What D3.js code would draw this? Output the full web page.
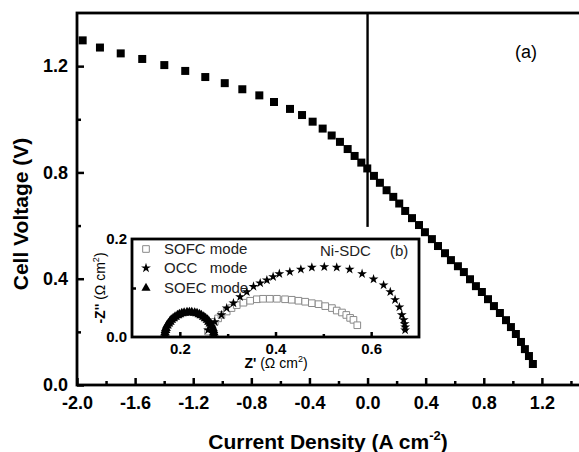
<!DOCTYPE html>
<html>
<head>
<meta charset="utf-8">
<script src="https://cdn.jsdelivr.net/npm/d3@7"></script>
<style>
  body { margin: 0; background: #fff; }
  svg { display: block; font-family: "Liberation Sans", Arial, sans-serif; }
</style>
</head>
<body>
<svg width="579" height="452"></svg>
<script>
// main curve: current density (A cm-2) vs cell voltage (V)
const currentDensity = [-1.961, -1.842, -1.699, -1.551, -1.399, -1.255, -1.117, -0.983, -0.862, -0.745,
  -0.644, -0.534, -0.451, -0.378, -0.309, -0.247, -0.190, -0.137, -0.089, -0.043,
  -0.002, 0.044, 0.085, 0.131, 0.177, 0.218, 0.259, 0.306, 0.354, 0.395,
  0.443, 0.485, 0.533, 0.574, 0.622, 0.663, 0.705, 0.746, 0.787, 0.829,
  0.870, 0.911, 0.953, 0.987, 1.021, 1.056, 1.083, 1.111, 1.138];
const cellVoltage = [1.297, 1.270, 1.248, 1.227, 1.204, 1.182, 1.159, 1.136, 1.113, 1.090,
  1.065, 1.039, 1.016, 0.991, 0.965, 0.939, 0.915, 0.888, 0.862, 0.837,
  0.815, 0.787, 0.761, 0.733, 0.708, 0.683, 0.655, 0.628, 0.602, 0.575,
  0.549, 0.523, 0.496, 0.470, 0.447, 0.425, 0.398, 0.372, 0.350, 0.323,
  0.297, 0.271, 0.244, 0.218, 0.192, 0.162, 0.135, 0.109, 0.079];

// inset (b): impedance spectra, Z' and -Z'' (ohm cm2)
const sofcZre = [0.259, 0.266, 0.273, 0.280, 0.287, 0.298, 0.308, 0.319, 0.333, 0.347, 0.361, 0.374, 0.388, 0.403,
  0.420, 0.434, 0.448, 0.462, 0.476, 0.490, 0.504, 0.518, 0.528, 0.539, 0.548, 0.556, 0.563, 0.571];
const sofcZim = [0.011, 0.021, 0.031, 0.038, 0.045, 0.052, 0.059, 0.065, 0.070, 0.074, 0.077, 0.078, 0.078, 0.078,
  0.077, 0.076, 0.074, 0.072, 0.069, 0.067, 0.063, 0.059, 0.054, 0.050, 0.045, 0.039, 0.035, 0.024];
const occZre = [0.259, 0.273, 0.287, 0.298, 0.312, 0.326, 0.340, 0.354, 0.368, 0.382, 0.395, 0.408, 0.430, 0.453,
  0.476, 0.502, 0.528, 0.555, 0.581, 0.605, 0.626, 0.640, 0.650, 0.659, 0.664, 0.668, 0.670, 0.671, 0.671];
const occZim = [0.014, 0.031, 0.045, 0.059, 0.069, 0.082, 0.092, 0.103, 0.110, 0.116, 0.123, 0.129, 0.133, 0.138,
  0.142, 0.143, 0.142, 0.138, 0.129, 0.118, 0.106, 0.092, 0.076, 0.061, 0.045, 0.035, 0.027, 0.020, 0.014];
const soecZre = [0.169, 0.169, 0.170, 0.171, 0.173, 0.176, 0.179, 0.182, 0.186, 0.190, 0.195, 0.199, 0.204, 0.209, 0.215,
  0.220, 0.225, 0.231, 0.236, 0.241, 0.245, 0.250, 0.254, 0.258, 0.261, 0.264, 0.267, 0.269, 0.270, 0.271, 0.271];
const soecZim = [0.004, 0.009, 0.014, 0.018, 0.023, 0.027, 0.031, 0.035, 0.038, 0.041, 0.044, 0.046, 0.048, 0.049, 0.050,
  0.050, 0.050, 0.049, 0.048, 0.046, 0.044, 0.041, 0.038, 0.035, 0.031, 0.027, 0.023, 0.018, 0.014, 0.009, 0.004];

// tick values and labels
const xTicks = [-2.0, -1.6, -1.2, -0.8, -0.4, 0.0, 0.4, 0.8, 1.2];
const xTickLabels = ["-2.0", "-1.6", "-1.2", "-0.8", "-0.4", "0.0", "0.4", "0.8", "1.2"];
const xMinor = [-1.8, -1.4, -1.0, -0.6, -0.2, 0.2, 0.6, 1.0, 1.4];
const yTicks = [0.0, 0.4, 0.8, 1.2];
const yTickLabels = ["0.0", "0.4", "0.8", "1.2"];
const yMinor = [0.2, 0.6, 1.0];
const insetXTicks = [0.2, 0.4, 0.6];
const insetXTickLabels = ["0.2", "0.4", "0.6"];
const insetXMinor = [0.3, 0.5];
const insetYTicks = [0.0, 0.2];
const insetYTickLabels = ["0.0", "0.2"];
const insetYMinor = [0.1];
const legendLabels = ["SOFC mode", "OCC   mode", "SOEC mode"];
const zeroLineTop = 1.4, zeroLineBottom = 0.595;

const svg = d3.select("svg");

// main scales (right frame edge falls outside the picture)
const x = d3.scaleLinear().domain([-2, 1.6]).range([77, 600]);
const y = d3.scaleLinear().domain([0, 1.4]).range([385, 13]);

// axes with inward ticks
svg.append("g").attr("transform", `translate(0,${y(0)})`)
  .call(d3.axisBottom(x).tickValues(xTicks).tickSize(-7).tickPadding(11)
    .tickFormat((d, i) => xTickLabels[i]));
svg.append("g").attr("transform", `translate(0,${y(0)})`)
  .call(d3.axisBottom(x).tickValues(xMinor).tickSize(-4).tickFormat(""));
svg.append("g").attr("transform", `translate(${x(-2)},0)`)
  .call(d3.axisLeft(y).tickValues(yTicks).tickSize(-7).tickPadding(9)
    .tickFormat((d, i) => yTickLabels[i]));
svg.append("g").attr("transform", `translate(${x(-2)},0)`)
  .call(d3.axisLeft(y).tickValues(yMinor).tickSize(-4).tickFormat(""));

svg.selectAll(".domain").remove();
svg.selectAll(".tick line").attr("stroke", "#000").attr("stroke-width", 2.5);
svg.selectAll(".tick text").attr("font-size", 18).attr("font-weight", "bold")
  .attr("font-family", "Liberation Sans, Arial, sans-serif").attr("fill", "#000");

// frame
svg.append("rect")
  .attr("x", x(-2)).attr("y", y(1.4))
  .attr("width", x(1.6) - x(-2)).attr("height", y(0) - y(1.4))
  .attr("fill", "none").attr("stroke", "#000").attr("stroke-width", 2.8);

// vertical line at zero current
svg.append("line")
  .attr("x1", x(0)).attr("x2", x(0))
  .attr("y1", y(zeroLineTop)).attr("y2", y(zeroLineBottom))
  .attr("stroke", "#000").attr("stroke-width", 2.4);

// main data squares
svg.append("g").selectAll("path")
  .data(currentDensity.map((d, i) => [d, cellVoltage[i]]))
  .join("path")
  .attr("transform", d => `translate(${x(d[0])},${y(d[1])})`)
  .attr("d", d3.symbol(d3.symbolSquare, 64))
  .attr("fill", "#000");

// axis titles
const xTitle = svg.append("text")
  .attr("x", 328).attr("y", 449)
  .attr("text-anchor", "middle")
  .attr("font-size", 21).attr("font-weight", "bold");
xTitle.append("tspan").text("Current Density (A cm");
xTitle.append("tspan").attr("font-size", 13).attr("dy", -9).text("-2");
xTitle.append("tspan").attr("dy", 9).text(")");

svg.append("text")
  .attr("transform", "translate(28,214) rotate(-90)")
  .attr("text-anchor", "middle")
  .attr("font-size", 21).attr("font-weight", "bold")
  .text("Cell Voltage (V)");

svg.append("text")
  .attr("x", 526).attr("y", 58)
  .attr("text-anchor", "middle").attr("font-size", 18)
  .text("(a)");

// ---------- inset (b) ----------
const ix = d3.scaleLinear().domain([0.1, 0.7]).range([132, 419]);
const iy = d3.scaleLinear().domain([0, 0.2]).range([337, 239]);

const inset = svg.append("g");
inset.append("rect")
  .attr("x", ix(0.1)).attr("y", iy(0.2))
  .attr("width", ix(0.7) - ix(0.1)).attr("height", iy(0) - iy(0.2))
  .attr("fill", "#fff").attr("stroke", "none");

inset.append("g").attr("transform", `translate(0,${iy(0)})`)
  .call(d3.axisBottom(ix).tickValues(insetXTicks).tickSize(-5).tickPadding(6)
    .tickFormat((d, i) => insetXTickLabels[i]));
inset.append("g").attr("transform", `translate(0,${iy(0)})`)
  .call(d3.axisBottom(ix).tickValues(insetXMinor).tickSize(-3).tickFormat(""));
inset.append("g").attr("transform", `translate(${ix(0.1)},0)`)
  .call(d3.axisLeft(iy).tickValues(insetYTicks).tickSize(0).tickPadding(5)
    .tickFormat((d, i) => insetYTickLabels[i]));
inset.append("g").attr("transform", `translate(${ix(0.1)},0)`)
  .call(d3.axisLeft(iy).tickValues(insetYMinor).tickSize(-4).tickFormat(""));

inset.selectAll(".domain").remove();
inset.selectAll(".tick line").attr("stroke", "#000").attr("stroke-width", 2.5);
inset.selectAll(".tick text").attr("font-size", 15).attr("font-weight", "bold")
  .attr("font-family", "Liberation Sans, Arial, sans-serif").attr("fill", "#000");

// SOFC: open grey squares
inset.append("g").selectAll("path")
  .data(sofcZre.map((d, i) => [d, sofcZim[i]]))
  .join("path")
  .attr("transform", d => `translate(${ix(d[0])},${iy(d[1])})`)
  .attr("d", d3.symbol(d3.symbolSquare, 44))
  .attr("fill", "#fff").attr("stroke", "#8a8a8a").attr("stroke-width", 1);

// OCC: stars
inset.append("g").selectAll("path")
  .data(occZre.map((d, i) => [d, occZim[i]]))
  .join("path")
  .attr("transform", d => `translate(${ix(d[0])},${iy(d[1])})`)
  .attr("d", d3.symbol(d3.symbolStar, 30))
  .attr("fill", "#000");

// SOEC: filled triangles
inset.append("g").selectAll("path")
  .data(soecZre.map((d, i) => [d, soecZim[i]]))
  .join("path")
  .attr("transform", d => `translate(${ix(d[0])},${iy(d[1])})`)
  .attr("d", d3.symbol(d3.symbolTriangle, 42))
  .attr("fill", "#000");

// inset frame
inset.append("rect")
  .attr("x", ix(0.1)).attr("y", iy(0.2))
  .attr("width", ix(0.7) - ix(0.1)).attr("height", iy(0) - iy(0.2))
  .attr("fill", "none").attr("stroke", "#000").attr("stroke-width", 2.8);

// legend
const legendSymbols = [
  { sym: d3.symbolSquare, size: 44, fill: "#fff", stroke: "#8a8a8a" },
  { sym: d3.symbolStar, size: 30, fill: "#000", stroke: "none" },
  { sym: d3.symbolTriangle, size: 36, fill: "#000", stroke: "none" }
];
const legendY = [249, 268, 288];
legendLabels.forEach((lab, i) => {
  inset.append("path")
    .attr("transform", `translate(146,${legendY[i]})`)
    .attr("d", d3.symbol(legendSymbols[i].sym, legendSymbols[i].size))
    .attr("fill", legendSymbols[i].fill).attr("stroke", legendSymbols[i].stroke);
  inset.append("text")
    .attr("x", 164).attr("y", legendY[i] + 5)
    .attr("font-size", 15).attr("fill", "#222")
    .style("white-space", "pre")
    .text(lab);
});

inset.append("text").attr("x", 320).attr("y", 256)
  .attr("font-size", 15).attr("fill", "#222").text("Ni-SDC");
inset.append("text").attr("x", 390).attr("y", 256)
  .attr("font-size", 15).attr("fill", "#222").text("(b)");

// inset axis titles
const ixTitle = inset.append("text")
  .attr("x", 276).attr("y", 368)
  .attr("text-anchor", "middle").attr("font-size", 14);
ixTitle.append("tspan").attr("font-weight", "bold").text("Z'");
ixTitle.append("tspan").text(" (Ω cm");
ixTitle.append("tspan").attr("font-size", 9).attr("dy", -6).text("2");
ixTitle.append("tspan").attr("dy", 6).text(")");

const iyTitle = inset.append("text")
  .attr("transform", "translate(105,288) rotate(-90)")
  .attr("text-anchor", "middle").attr("font-size", 14);
iyTitle.append("tspan").attr("font-weight", "bold").text("-Z''");
iyTitle.append("tspan").text(" (Ω cm");
iyTitle.append("tspan").attr("font-size", 9).attr("dy", -6).text("2");
iyTitle.append("tspan").attr("dy", 6).text(")");
</script>
</body>
</html>
